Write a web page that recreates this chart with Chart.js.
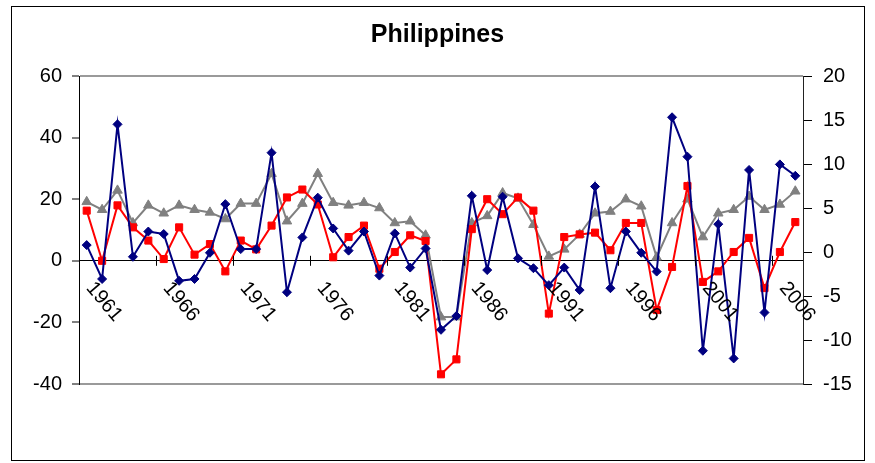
<!DOCTYPE html>
<html>
<head>
<meta charset="utf-8">
<script src="https://cdn.jsdelivr.net/npm/chart.js@4.4.0/dist/chart.umd.min.js"></script>
<style>
  html, body { margin: 0; padding: 0; background: #ffffff; }
  #wrap { width: 875px; height: 463px; position: relative; }
</style>
</head>
<body>
<div id="wrap"><canvas id="c" width="875" height="463"></canvas></div>
<script>
const years = ['1961','1962','1963','1964','1965','1966','1967','1968','1969','1970',
  '1971','1972','1973','1974','1975','1976','1977','1978','1979','1980',
  '1981','1982','1983','1984','1985','1986','1987','1988','1989','1990',
  '1991','1992','1993','1994','1995','1996','1997','1998','1999','2000',
  '2001','2002','2003','2004','2005','2006','2007'];

// Left axis series (blue diamonds)
const blueSeries = [5.1, -5.9, 44.3, 1.3, 9.5, 8.7, -6.5, -5.9, 2.6, 18.4, 3.8, 3.8,
  35.1, -10.2, 7.6, 20.5, 10.5, 3.3, 9.5, -4.8, 8.9, -2.2, 4.0,
  -22.4, -17.9, 21.1, -3.0, 20.8, 0.8, -2.4, -7.9, -2.2, -9.5, 24.1, -8.9,
  9.5, 2.6, -3.5, 46.6, 33.8, -29.2, 11.9, -31.7, 29.5, -16.8, 31.3, 27.6];

// Right axis series (red squares)
const redSeries = [4.7, -1.0, 5.3, 2.8, 1.3, -0.8, 2.8, -0.3, 0.9, -2.2, 1.3, 0.3,
  3.0, 6.2, 7.1, 5.4, -0.6, 1.7, 3.0, -1.9, 0.0, 1.9, 1.25,
  -13.9, -12.2, 2.6, 6.0, 4.3, 6.2, 4.7, -7.0, 1.7, 2.0, 2.2, 0.2,
  3.3, 3.3, -6.6, -1.7, 7.5, -3.4, -2.2, 0.0, 1.6, -4.1, 0.0, 3.4];

// Right axis series (gray triangles)
const graySeries = [5.7, 4.8, 7.0, 3.3, 5.3, 4.4, 5.3, 4.8, 4.5, 3.75, 5.5, 5.5,
  8.9, 3.5, 5.5, 8.9, 5.6, 5.3, 5.6, 5.0, 3.3, 3.5, 1.9,
  -7.4, -7.4, 3.3, 4.1, 6.7, 6.1, 3.1, -0.5, 0.3, 2.0, 4.4, 4.6,
  6.0, 5.2, -0.6, 3.3, 6.0, 1.7, 4.4, 4.8, 6.3, 4.8, 5.4, 6.9];

const leftAxisRange = [-40, 60, 20];
const rightAxisRange = [-15, 20, 5];
const labelEvery = 5;
const chartTitle = 'Philippines';

const FONT = '"Liberation Sans", Arial, sans-serif';

const framePlugin = {
  id: 'frame',
  beforeDraw(chart) {
    const ctx = chart.ctx;
    ctx.save();
    ctx.fillStyle = '#ffffff';
    ctx.fillRect(0, 0, chart.width, chart.height);
    ctx.strokeStyle = '#000000';
    ctx.lineWidth = 1;
    ctx.strokeRect(11.5, 6.5, 853, 454);
    ctx.restore();
  },
  afterDraw(chart) {
    const ctx = chart.ctx;
    const xs = chart.scales.x;
    const ys = chart.scales.y;
    const y0 = ys.getPixelForValue(0);
    ctx.save();
    // crossing tick marks every 5 categories
    ctx.strokeStyle = '#000000';
    ctx.lineWidth = 1;
    for (let i = labelEvery; i < years.length; i += labelEvery) {
      const xb = Math.round((xs.getPixelForValue(i - 1) + xs.getPixelForValue(i)) / 2) + 0.5;
      ctx.beginPath();
      ctx.moveTo(xb, y0 - 5);
      ctx.lineTo(xb, y0 + 5);
      ctx.stroke();
    }
    // rotated category labels
    ctx.fillStyle = '#000000';
    ctx.font = '20px ' + FONT;
    ctx.textAlign = 'left';
    ctx.textBaseline = 'middle';
    const ang = 50 * Math.PI / 180;
    for (let i = 0; i < years.length; i += labelEvery) {
      const cx = xs.getPixelForValue(i);
      ctx.save();
      ctx.translate(cx + 3, y0 + 24);
      ctx.rotate(ang);
      ctx.fillText(years[i], 0, 0);
      ctx.restore();
    }
    ctx.restore();
  }
};

new Chart(document.getElementById('c'), {
  type: 'line',
  data: {
    labels: years,
    datasets: [
      {
        label: 'Series 1',
        data: blueSeries,
        yAxisID: 'y',
        borderColor: '#000080',
        backgroundColor: '#000080',
        borderWidth: 2,
        pointStyle: 'rectRot',
        pointRadius: 4.5,
        pointBorderWidth: 1,
        tension: 0,
        order: 1
      },
      {
        label: 'Series 2',
        data: redSeries,
        yAxisID: 'y1',
        borderColor: '#ff0000',
        backgroundColor: '#ff0000',
        borderWidth: 2,
        pointStyle: 'rect',
        pointRadius: 5,
        pointBorderWidth: 1,
        tension: 0,
        order: 2
      },
      {
        label: 'Series 3',
        data: graySeries,
        yAxisID: 'y1',
        borderColor: '#808080',
        backgroundColor: '#808080',
        borderWidth: 2,
        pointStyle: 'triangle',
        pointRadius: 5.5,
        pointBorderWidth: 1,
        tension: 0,
        order: 3
      }
    ]
  },
  options: {
    responsive: false,
    animation: false,
    devicePixelRatio: 1,
    layout: { padding: { left: 0, right: 0, top: 20, bottom: 79 } },
    plugins: {
      legend: { display: false },
      tooltip: { enabled: false },
      title: {
        display: true,
        text: chartTitle,
        color: '#000000',
        font: { family: FONT, size: 25, weight: 'bold' },
        padding: { top: 0, bottom: 26 }
      }
    },
    scales: {
      x: {
        type: 'category',
        position: { y: 0 },
        offset: true,
        grid: { display: false, offset: true },
        border: { display: true, color: '#000000', width: 1 },
        ticks: { display: false, autoSkip: false }
      },
      y: {
        position: 'left',
        min: leftAxisRange[0],
        max: leftAxisRange[1],
        ticks: {
          stepSize: leftAxisRange[2],
          color: '#000000',
          padding: 10,
          font: { family: FONT, size: 20 }
        },
        grid: {
          drawOnChartArea: true,
          color: (c) => (c.tick && (c.tick.value === leftAxisRange[0] || c.tick.value === leftAxisRange[1])) ? '#9a9a9a' : 'rgba(0,0,0,0)',
          lineWidth: (c) => (c.tick && (c.tick.value === leftAxisRange[0] || c.tick.value === leftAxisRange[1])) ? 2 : 0,
          tickColor: '#000000',
          tickLength: 7,
          tickWidth: 1
        },
        border: { display: true, color: '#000000', width: 1 },
        afterFit(scale) { scale.width = 79; }
      },
      y1: {
        position: 'right',
        min: rightAxisRange[0],
        max: rightAxisRange[1],
        ticks: {
          stepSize: rightAxisRange[2],
          color: '#000000',
          padding: 11,
          font: { family: FONT, size: 20 }
        },
        grid: {
          drawOnChartArea: false,
          tickColor: '#000000',
          tickLength: 9,
          tickWidth: 1
        },
        border: { display: true, color: '#222222', width: 1 },
        afterFit(scale) { scale.width = 72; }
      }
    }
  },
  plugins: [framePlugin]
});
</script>
</body>
</html>
